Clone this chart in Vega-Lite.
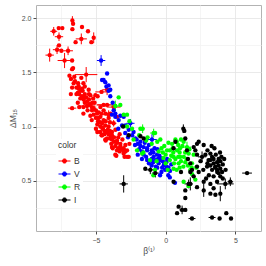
{
  "$schema": "https://vega.github.io/schema/vega-lite/v6.json",
  "width": 225,
  "height": 226,
  "autosize": {"type": "none"},
  "padding": {"left": 36, "top": 5, "right": 5, "bottom": 35},
  "background": "white",
  "config": {
    "font": "Liberation Sans",
    "view": {"stroke": "#b3b3b3", "strokeWidth": 1},
    "axis": {
      "domain": false,
      "labelFontSize": 7,
      "labelColor": "#4d4d4d",
      "titleFontSize": 8.5,
      "titleFontWeight": "normal",
      "titleColor": "#4d4d4d",
      "tickSize": 3,
      "labelPadding": 2,
      "gridWidth": 0.8
    }
  },
  "datasets": {
    "pts": [
      {"b": -6.69, "m": 1.98, "c": "B"}, {"b": -6.64, "m": 1.95, "c": "B"}, {"b": -6.69, "m": 1.90, "c": "B"}, {"b": -6.00, "m": 1.92, "c": "B"},
      {"b": -5.57, "m": 1.88, "c": "B"}, {"b": -7.67, "m": 1.91, "c": "B"}, {"b": -7.41, "m": 1.91, "c": "B"}, {"b": -8.03, "m": 1.88, "c": "B"},
      {"b": -7.65, "m": 1.83, "c": "B"}, {"b": -5.16, "m": 1.82, "c": "B"}, {"b": -6.05, "m": 1.81, "c": "B"}, {"b": -6.46, "m": 1.78, "c": "B"},
      {"b": -5.33, "m": 1.78, "c": "B"}, {"b": -7.65, "m": 1.75, "c": "B"}, {"b": -7.79, "m": 1.71, "c": "B"}, {"b": -7.48, "m": 1.70, "c": "B"},
      {"b": -7.00, "m": 1.70, "c": "B"}, {"b": -8.32, "m": 1.66, "c": "B"}, {"b": -7.25, "m": 1.61, "c": "B"}, {"b": -6.71, "m": 1.61, "c": "B"},
      {"b": -6.64, "m": 1.54, "c": "B"}, {"b": -5.70, "m": 1.48, "c": "B"}, {"b": -6.71, "m": 1.53, "c": "B"}, {"b": -6.79, "m": 1.44, "c": "B"},
      {"b": -6.28, "m": 1.40, "c": "B"}, {"b": -6.24, "m": 1.37, "c": "B"}, {"b": -6.71, "m": 1.36, "c": "B"}, {"b": -6.12, "m": 1.33, "c": "B"},
      {"b": -6.31, "m": 1.31, "c": "B"}, {"b": -5.95, "m": 1.33, "c": "B"}, {"b": -4.20, "m": 1.34, "c": "B"}, {"b": -5.04, "m": 1.29, "c": "B"},
      {"b": -4.88, "m": 1.28, "c": "B"}, {"b": -6.12, "m": 1.26, "c": "B"}, {"b": -5.88, "m": 1.25, "c": "B"}, {"b": -6.71, "m": 1.17, "c": "B"},
      {"b": -5.64, "m": 1.19, "c": "B"}, {"b": -5.40, "m": 1.21, "c": "B"}, {"b": -5.28, "m": 1.15, "c": "B"}, {"b": -4.68, "m": 1.18, "c": "B"},
      {"b": -4.45, "m": 1.20, "c": "B"}, {"b": -4.09, "m": 1.11, "c": "B"}, {"b": -5.16, "m": 1.11, "c": "B"}, {"b": -4.81, "m": 1.08, "c": "B"},
      {"b": -4.45, "m": 1.06, "c": "B"}, {"b": -4.68, "m": 1.00, "c": "B"}, {"b": -4.09, "m": 1.00, "c": "B"}, {"b": -4.38, "m": 0.96, "c": "B"},
      {"b": -6.55, "m": 1.46, "c": "B"}, {"b": -6.24, "m": 1.35, "c": "B"}, {"b": -5.88, "m": 1.27, "c": "B"}, {"b": -5.64, "m": 1.23, "c": "B"},
      {"b": -5.25, "m": 1.22, "c": "B"}, {"b": -5.16, "m": 1.17, "c": "B"}, {"b": -4.92, "m": 1.12, "c": "B"}, {"b": -4.68, "m": 1.09, "c": "B"},
      {"b": -4.56, "m": 1.03, "c": "B"}, {"b": -4.33, "m": 1.01, "c": "B"}, {"b": -4.20, "m": 0.95, "c": "B"}, {"b": -3.97, "m": 0.92, "c": "B"},
      {"b": -4.68, "m": 0.95, "c": "B"}, {"b": -3.85, "m": 0.88, "c": "B"}, {"b": -4.45, "m": 1.15, "c": "B"}, {"b": -4.09, "m": 1.08, "c": "B"},
      {"b": -5.40, "m": 1.29, "c": "B"}, {"b": -5.52, "m": 1.34, "c": "B"}, {"b": -4.20, "m": 0.89, "c": "B"}, {"b": -3.49, "m": 0.85, "c": "B"},
      {"b": -3.25, "m": 0.82, "c": "B"}, {"b": -2.89, "m": 0.77, "c": "B"}, {"b": -2.65, "m": 0.72, "c": "B"}, {"b": -3.54, "m": 0.73, "c": "B"},
      {"b": -3.01, "m": 0.80, "c": "B"}, {"b": -3.73, "m": 1.18, "c": "B"}, {"b": -3.49, "m": 1.09, "c": "B"}, {"b": -3.85, "m": 0.95, "c": "B"},
      {"b": -3.49, "m": 0.87, "c": "B"}, {"b": -3.25, "m": 0.84, "c": "B"}, {"b": -2.89, "m": 0.83, "c": "B"}, {"b": -3.61, "m": 0.74, "c": "B"},
      {"b": -2.77, "m": 0.78, "c": "B"}, {"b": -3.01, "m": 0.75, "c": "B"}, {"b": -6.40, "m": 1.30, "c": "B"}, {"b": -6.00, "m": 1.28, "c": "B"},
      {"b": -5.80, "m": 1.22, "c": "B"}, {"b": -5.50, "m": 1.25, "c": "B"}, {"b": -5.90, "m": 1.18, "c": "B"}, {"b": -5.00, "m": 1.15, "c": "B"},
      {"b": -5.30, "m": 1.06, "c": "B"}, {"b": -4.90, "m": 1.02, "c": "B"}, {"b": -4.50, "m": 0.98, "c": "B"}, {"b": -4.10, "m": 0.93, "c": "B"},
      {"b": -3.70, "m": 0.90, "c": "B"}, {"b": -3.90, "m": 0.84, "c": "B"}, {"b": -4.30, "m": 0.87, "c": "B"}, {"b": -5.00, "m": 0.98, "c": "B"},
      {"b": -3.30, "m": 0.93, "c": "B"}, {"b": -3.10, "m": 0.88, "c": "B"}, {"b": -2.60, "m": 0.84, "c": "B"}, {"b": -4.00, "m": 1.04, "c": "B"},
      {"b": -4.80, "m": 1.13, "c": "B"}, {"b": -6.30, "m": 1.22, "c": "B"}, {"b": -6.50, "m": 1.42, "c": "B"}, {"b": -5.90, "m": 1.40, "c": "B"},
      {"b": -6.90, "m": 1.47, "c": "B"}, {"b": -5.20, "m": 1.26, "c": "B"}, {"b": -4.60, "m": 1.12, "c": "B"}, {"b": -3.80, "m": 0.80, "c": "B"},
      {"b": -6.60, "m": 1.40, "c": "B"}, {"b": -6.40, "m": 1.36, "c": "B"}, {"b": -6.20, "m": 1.30, "c": "B"}, {"b": -6.00, "m": 1.35, "c": "B"},
      {"b": -5.80, "m": 1.30, "c": "B"}, {"b": -5.70, "m": 1.27, "c": "B"}, {"b": -5.50, "m": 1.20, "c": "B"}, {"b": -5.60, "m": 1.15, "c": "B"},
      {"b": -5.30, "m": 1.18, "c": "B"}, {"b": -5.10, "m": 1.22, "c": "B"}, {"b": -5.00, "m": 1.08, "c": "B"}, {"b": -4.85, "m": 1.05, "c": "B"},
      {"b": -4.70, "m": 1.04, "c": "B"}, {"b": -4.55, "m": 0.99, "c": "B"}, {"b": -4.40, "m": 0.93, "c": "B"}, {"b": -4.30, "m": 1.05, "c": "B"},
      {"b": -4.15, "m": 0.97, "c": "B"}, {"b": -4.00, "m": 0.96, "c": "B"}, {"b": -3.85, "m": 0.92, "c": "B"}, {"b": -3.70, "m": 0.86, "c": "B"},
      {"b": -3.60, "m": 0.82, "c": "B"}, {"b": -3.40, "m": 0.80, "c": "B"}, {"b": -3.30, "m": 0.77, "c": "B"}, {"b": -3.15, "m": 0.79, "c": "B"},
      {"b": -2.95, "m": 0.72, "c": "B"}, {"b": -5.90, "m": 1.12, "c": "B"}, {"b": -6.20, "m": 1.18, "c": "B"}, {"b": -5.40, "m": 1.10, "c": "B"},
      {"b": -4.90, "m": 0.95, "c": "B"}, {"b": -4.60, "m": 0.92, "c": "B"}, {"b": -3.95, "m": 1.12, "c": "B"}, {"b": -4.30, "m": 1.12, "c": "B"},
      {"b": -3.60, "m": 0.97, "c": "B"}, {"b": -3.40, "m": 0.90, "c": "B"}, {"b": -6.05, "m": 1.45, "c": "B"}, {"b": -5.80, "m": 1.37, "c": "B"},
      {"b": -6.80, "m": 1.30, "c": "B"}, {"b": -5.50, "m": 1.30, "c": "B"}, {"b": -4.56, "m": 0.92, "c": "B"}, {"b": -4.33, "m": 0.88, "c": "B"},
      {"b": -3.97, "m": 0.89, "c": "B"}, {"b": -3.85, "m": 0.81, "c": "B"}, {"b": -3.49, "m": 0.78, "c": "B"}, {"b": -3.01, "m": 0.77, "c": "B"},
      {"b": -2.77, "m": 0.72, "c": "B"}, {"b": -3.73, "m": 1.03, "c": "B"}, {"b": -4.20, "m": 1.20, "c": "B"}, {"b": -4.60, "m": 1.32, "c": "B"},

      {"b": -4.63, "m": 1.61, "c": "V"}, {"b": -4.20, "m": 1.49, "c": "V"}, {"b": -4.56, "m": 1.43, "c": "V"}, {"b": -4.33, "m": 1.41, "c": "V"},
      {"b": -4.25, "m": 1.37, "c": "V"}, {"b": -4.09, "m": 1.33, "c": "V"}, {"b": -3.97, "m": 1.28, "c": "V"}, {"b": -3.73, "m": 1.15, "c": "V"},
      {"b": -3.61, "m": 1.09, "c": "V"}, {"b": -3.37, "m": 1.06, "c": "V"}, {"b": -3.13, "m": 1.01, "c": "V"}, {"b": -3.85, "m": 1.11, "c": "V"},
      {"b": -3.61, "m": 1.12, "c": "V"}, {"b": -3.25, "m": 1.10, "c": "V"}, {"b": -3.01, "m": 1.09, "c": "V"}, {"b": -2.89, "m": 1.01, "c": "V"},
      {"b": -2.65, "m": 0.97, "c": "V"}, {"b": -2.53, "m": 1.03, "c": "V"}, {"b": -2.17, "m": 0.89, "c": "V"}, {"b": -1.81, "m": 0.86, "c": "V"},
      {"b": -1.58, "m": 0.81, "c": "V"}, {"b": -1.33, "m": 0.78, "c": "V"}, {"b": -0.98, "m": 0.88, "c": "V"}, {"b": -1.10, "m": 0.75, "c": "V"},
      {"b": -0.86, "m": 0.72, "c": "V"}, {"b": -0.62, "m": 0.74, "c": "V"}, {"b": -0.38, "m": 0.71, "c": "V"}, {"b": -0.74, "m": 0.69, "c": "V"},
      {"b": -0.50, "m": 0.66, "c": "V"}, {"b": -0.14, "m": 0.64, "c": "V"}, {"b": -1.33, "m": 0.69, "c": "V"}, {"b": -1.58, "m": 0.74, "c": "V"},
      {"b": -2.08, "m": 0.88, "c": "V"}, {"b": -1.81, "m": 0.82, "c": "V"}, {"b": -1.33, "m": 0.80, "c": "V"}, {"b": -0.88, "m": 0.76, "c": "V"},
      {"b": -0.40, "m": 0.69, "c": "V"}, {"b": 0.07, "m": 0.63, "c": "V"}, {"b": 0.31, "m": 0.59, "c": "V"}, {"b": 0.67, "m": 0.48, "c": "V"},
      {"b": -0.04, "m": 0.60, "c": "V"}, {"b": 0.19, "m": 0.55, "c": "V"}, {"b": -2.40, "m": 0.92, "c": "V"}, {"b": -2.00, "m": 0.84, "c": "V"},
      {"b": -1.70, "m": 0.77, "c": "V"}, {"b": -1.00, "m": 0.70, "c": "V"}, {"b": -0.60, "m": 0.62, "c": "V"}, {"b": -0.20, "m": 0.68, "c": "V"},
      {"b": 0.40, "m": 0.65, "c": "V"}, {"b": -3.40, "m": 0.98, "c": "V"}, {"b": -2.90, "m": 0.94, "c": "V"}, {"b": -1.20, "m": 0.83, "c": "V"},
      {"b": -0.30, "m": 0.58, "c": "V"}, {"b": 0.10, "m": 0.70, "c": "V"}, {"b": -3.80, "m": 1.22, "c": "V"}, {"b": -4.45, "m": 1.43, "c": "V"},
      {"b": -4.09, "m": 1.38, "c": "V"}, {"b": -3.97, "m": 1.34, "c": "V"},
      {"b": -1.40, "m": 0.72, "c": "V"}, {"b": -1.20, "m": 0.66, "c": "V"}, {"b": -1.00, "m": 0.64, "c": "V"}, {"b": -0.90, "m": 0.67, "c": "V"},
      {"b": -0.70, "m": 0.63, "c": "V"}, {"b": -0.55, "m": 0.70, "c": "V"}, {"b": -0.45, "m": 0.73, "c": "V"}, {"b": -0.25, "m": 0.62, "c": "V"},
      {"b": -0.10, "m": 0.66, "c": "V"}, {"b": 0.05, "m": 0.67, "c": "V"}, {"b": 0.20, "m": 0.62, "c": "V"}, {"b": -0.80, "m": 0.80, "c": "V"},
      {"b": -1.50, "m": 0.85, "c": "V"}, {"b": -1.90, "m": 0.79, "c": "V"}, {"b": -2.20, "m": 0.83, "c": "V"}, {"b": -2.30, "m": 0.95, "c": "V"},
      {"b": -2.70, "m": 0.90, "c": "V"}, {"b": -1.00, "m": 0.78, "c": "V"}, {"b": -0.60, "m": 0.79, "c": "V"}, {"b": -1.70, "m": 0.70, "c": "V"},
      {"b": 0.30, "m": 0.53, "c": "V"}, {"b": -0.40, "m": 0.55, "c": "V"}, {"b": -2.00, "m": 0.74, "c": "V"},

      {"b": -3.37, "m": 1.27, "c": "R"}, {"b": -3.61, "m": 1.19, "c": "R"}, {"b": -3.01, "m": 1.11, "c": "R"}, {"b": -2.77, "m": 1.00, "c": "R"},
      {"b": -2.41, "m": 0.98, "c": "R"}, {"b": -1.65, "m": 0.98, "c": "R"}, {"b": -0.76, "m": 0.94, "c": "R"}, {"b": -3.25, "m": 1.20, "c": "R"},
      {"b": -2.77, "m": 1.11, "c": "R"}, {"b": -1.81, "m": 0.98, "c": "R"}, {"b": -0.86, "m": 0.94, "c": "R"}, {"b": -0.38, "m": 0.88, "c": "R"},
      {"b": 0.46, "m": 0.84, "c": "R"}, {"b": 0.10, "m": 0.78, "c": "R"}, {"b": 0.82, "m": 0.78, "c": "R"}, {"b": 0.57, "m": 0.72, "c": "R"},
      {"b": -2.05, "m": 0.78, "c": "R"}, {"b": -1.69, "m": 0.75, "c": "R"}, {"b": 1.29, "m": 0.86, "c": "R"}, {"b": 1.53, "m": 0.81, "c": "R"},
      {"b": 1.65, "m": 0.75, "c": "R"}, {"b": 1.05, "m": 0.72, "c": "R"}, {"b": 1.41, "m": 0.67, "c": "R"}, {"b": 1.89, "m": 0.66, "c": "R"},
      {"b": 2.01, "m": 0.74, "c": "R"}, {"b": 1.77, "m": 0.60, "c": "R"}, {"b": 1.29, "m": 0.49, "c": "R"}, {"b": 2.13, "m": 0.51, "c": "R"},
      {"b": 0.57, "m": 0.61, "c": "R"}, {"b": 0.93, "m": 0.66, "c": "R"}, {"b": -1.60, "m": 0.76, "c": "R"}, {"b": -1.12, "m": 0.69, "c": "R"},
      {"b": -0.65, "m": 0.68, "c": "R"}, {"b": -0.16, "m": 0.71, "c": "R"}, {"b": 0.55, "m": 0.76, "c": "R"}, {"b": 1.03, "m": 0.80, "c": "R"},
      {"b": 1.27, "m": 0.63, "c": "R"}, {"b": 0.79, "m": 0.60, "c": "R"}, {"b": 1.87, "m": 0.62, "c": "R"}, {"b": 1.63, "m": 0.45, "c": "R"},
      {"b": -0.88, "m": 0.55, "c": "R"}, {"b": -0.76, "m": 0.60, "c": "R"}, {"b": -0.30, "m": 0.80, "c": "R"}, {"b": 0.20, "m": 0.85, "c": "R"},
      {"b": 0.70, "m": 0.88, "c": "R"}, {"b": -1.30, "m": 0.90, "c": "R"}, {"b": -2.30, "m": 0.88, "c": "R"}, {"b": 0.00, "m": 0.74, "c": "R"},
      {"b": 0.30, "m": 0.69, "c": "R"}, {"b": 1.00, "m": 0.76, "c": "R"}, {"b": -0.50, "m": 0.77, "c": "R"}, {"b": 1.50, "m": 0.70, "c": "R"},
      {"b": -1.90, "m": 0.92, "c": "R"}, {"b": 0.90, "m": 0.83, "c": "R"}, {"b": -2.60, "m": 1.05, "c": "R"}, {"b": -0.10, "m": 0.82, "c": "R"},
      {"b": 0.30, "m": 0.78, "c": "R"}, {"b": 0.50, "m": 0.80, "c": "R"}, {"b": 0.70, "m": 0.70, "c": "R"}, {"b": 0.90, "m": 0.72, "c": "R"},
      {"b": 1.10, "m": 0.68, "c": "R"}, {"b": 1.20, "m": 0.82, "c": "R"}, {"b": 1.40, "m": 0.76, "c": "R"}, {"b": 1.60, "m": 0.64, "c": "R"},
      {"b": 0.60, "m": 0.66, "c": "R"}, {"b": 0.00, "m": 0.66, "c": "R"}, {"b": 0.15, "m": 0.60, "c": "R"}, {"b": 1.00, "m": 0.62, "c": "R"},
      {"b": 0.40, "m": 0.73, "c": "R"}, {"b": 1.30, "m": 0.72, "c": "R"}, {"b": -0.20, "m": 0.76, "c": "R"}, {"b": 0.80, "m": 0.86, "c": "R"},
      {"b": 1.70, "m": 0.79, "c": "R"}, {"b": 1.10, "m": 0.88, "c": "R"}, {"b": -1.00, "m": 0.84, "c": "R"}, {"b": -0.60, "m": 0.86, "c": "R"},
      {"b": -1.40, "m": 0.87, "c": "R"}, {"b": 1.90, "m": 0.56, "c": "R"}, {"b": 2.20, "m": 0.62, "c": "R"},

      {"b": -3.01, "m": 0.47, "c": "I"}, {"b": -2.65, "m": 0.92, "c": "I"}, {"b": -1.81, "m": 0.91, "c": "I"}, {"b": -1.58, "m": 0.89, "c": "I"},
      {"b": -3.05, "m": 1.00, "c": "I"}, {"b": -1.46, "m": 0.61, "c": "I"}, {"b": 1.27, "m": 0.98, "c": "I"}, {"b": 1.34, "m": 0.96, "c": "I"},
      {"b": 2.37, "m": 0.86, "c": "I"}, {"b": 2.73, "m": 0.83, "c": "I"}, {"b": 1.53, "m": 0.78, "c": "I"}, {"b": 2.13, "m": 0.78, "c": "I"},
      {"b": 2.61, "m": 0.72, "c": "I"}, {"b": 2.85, "m": 0.74, "c": "I"}, {"b": 3.21, "m": 0.75, "c": "I"}, {"b": 3.33, "m": 0.72, "c": "I"},
      {"b": 3.08, "m": 0.69, "c": "I"}, {"b": 3.44, "m": 0.70, "c": "I"}, {"b": 3.69, "m": 0.67, "c": "I"}, {"b": 3.92, "m": 0.68, "c": "I"},
      {"b": 3.44, "m": 0.66, "c": "I"}, {"b": 3.80, "m": 0.64, "c": "I"}, {"b": 3.57, "m": 0.63, "c": "I"}, {"b": 3.92, "m": 0.61, "c": "I"},
      {"b": 3.69, "m": 0.60, "c": "I"}, {"b": 4.05, "m": 0.58, "c": "I"}, {"b": 3.80, "m": 0.57, "c": "I"}, {"b": 3.33, "m": 0.60, "c": "I"},
      {"b": 3.21, "m": 0.64, "c": "I"}, {"b": 2.97, "m": 0.63, "c": "I"}, {"b": 3.92, "m": 0.54, "c": "I"}, {"b": 4.28, "m": 0.47, "c": "I"},
      {"b": 4.64, "m": 0.49, "c": "I"}, {"b": 3.69, "m": 0.49, "c": "I"}, {"b": 3.21, "m": 0.47, "c": "I"}, {"b": 3.44, "m": 0.43, "c": "I"},
      {"b": 3.57, "m": 0.37, "c": "I"}, {"b": 2.73, "m": 0.49, "c": "I"}, {"b": 2.73, "m": 0.41, "c": "I"}, {"b": 3.92, "m": 0.38, "c": "I"},
      {"b": 3.21, "m": 0.38, "c": "I"}, {"b": 5.84, "m": 0.57, "c": "I"}, {"b": 2.25, "m": 0.63, "c": "I"}, {"b": 1.77, "m": 0.66, "c": "I"},
      {"b": 1.77, "m": 0.47, "c": "I"}, {"b": 2.01, "m": 0.54, "c": "I"}, {"b": 1.41, "m": 0.34, "c": "I"}, {"b": 1.41, "m": 0.41, "c": "I"},
      {"b": 0.70, "m": 0.86, "c": "I"}, {"b": 0.57, "m": 0.80, "c": "I"}, {"b": 2.25, "m": 0.84, "c": "I"}, {"b": 0.93, "m": 0.26, "c": "I"},
      {"b": 1.18, "m": 0.23, "c": "I"}, {"b": 1.41, "m": 0.23, "c": "I"}, {"b": 0.82, "m": 0.20, "c": "I"}, {"b": 1.89, "m": 0.15, "c": "I"},
      {"b": 3.33, "m": 0.16, "c": "I"}, {"b": 3.87, "m": 0.15, "c": "I"}, {"b": 4.35, "m": 0.20, "c": "I"}, {"b": 4.69, "m": 0.15, "c": "I"},
      {"b": 1.77, "m": 0.58, "c": "I"}, {"b": 2.37, "m": 0.58, "c": "I"}, {"b": 3.44, "m": 0.54, "c": "I"}, {"b": 1.60, "m": 0.70, "c": "I"},
      {"b": 3.00, "m": 0.78, "c": "I"}, {"b": 3.60, "m": 0.74, "c": "I"}, {"b": 4.10, "m": 0.65, "c": "I"}, {"b": 4.30, "m": 0.60, "c": "I"},
      {"b": 3.10, "m": 0.55, "c": "I"}, {"b": 2.50, "m": 0.68, "c": "I"}, {"b": 4.00, "m": 0.72, "c": "I"}, {"b": 3.50, "m": 0.80, "c": "I"},
      {"b": 1.10, "m": 0.58, "c": "I"}, {"b": 2.90, "m": 0.52, "c": "I"},
      {"b": -1.10, "m": 0.60, "c": "I"}, {"b": -0.74, "m": 0.57, "c": "I"}, {"b": 1.65, "m": 0.47, "c": "I"}, {"b": 1.41, "m": 0.89, "c": "I"},
      {"b": 2.01, "m": 0.81, "c": "I"}, {"b": 2.25, "m": 0.74, "c": "I"}, {"b": 1.89, "m": 0.60, "c": "I"}, {"b": 0.57, "m": 0.49, "c": "I"},
      {"b": 2.25, "m": 0.44, "c": "I"}, {"b": 3.30, "m": 0.82, "c": "I"}, {"b": 3.90, "m": 0.76, "c": "I"}, {"b": 4.20, "m": 0.70, "c": "I"},
      {"b": 3.70, "m": 0.58, "c": "I"}, {"b": 4.10, "m": 0.52, "c": "I"}, {"b": 3.00, "m": 0.66, "c": "I"}, {"b": 2.70, "m": 0.60, "c": "I"},
      {"b": 3.55, "m": 0.62, "c": "I"}, {"b": 3.20, "m": 0.69, "c": "I"}, {"b": 3.80, "m": 0.70, "c": "I"}
    ],
    "err": [
      {"b": -6.69, "m": 1.98, "c": "B", "xe": 0, "ye": 0.04},
      {"b": -8.03, "m": 1.88, "c": "B", "xe": 0.25, "ye": 0.04},
      {"b": -7.65, "m": 1.83, "c": "B", "xe": 0.3, "ye": 0.04},
      {"b": -5.16, "m": 1.82, "c": "B", "xe": 0, "ye": 0.05},
      {"b": -6.05, "m": 1.81, "c": "B", "xe": 0.4, "ye": 0.05},
      {"b": -7.79, "m": 1.71, "c": "B", "xe": 0.3, "ye": 0.04},
      {"b": -7.00, "m": 1.70, "c": "B", "xe": 0.35, "ye": 0.04},
      {"b": -8.32, "m": 1.66, "c": "B", "xe": 0.3, "ye": 0.06},
      {"b": -7.25, "m": 1.61, "c": "B", "xe": 0.5, "ye": 0.07},
      {"b": -5.70, "m": 1.48, "c": "B", "xe": 0.8, "ye": 0.07},
      {"b": -4.20, "m": 1.34, "c": "B", "xe": 0.35, "ye": 0.05},
      {"b": -6.71, "m": 1.17, "c": "B", "xe": 0.3, "ye": 0},
      {"b": -5.64, "m": 1.19, "c": "B", "xe": 0.6, "ye": 0.05},
      {"b": -4.45, "m": 1.20, "c": "B", "xe": 0.5, "ye": 0},
      {"b": -4.09, "m": 1.11, "c": "B", "xe": 0.5, "ye": 0.04},
      {"b": -3.73, "m": 1.18, "c": "B", "xe": 0.5, "ye": 0},
      {"b": -4.20, "m": 1.20, "c": "B", "xe": 0.7, "ye": 0},
      {"b": -4.60, "m": 1.32, "c": "B", "xe": 0.45, "ye": 0},
      {"b": -3.73, "m": 1.03, "c": "B", "xe": 0.2, "ye": 0.03},
      {"b": -4.63, "m": 1.61, "c": "V", "xe": 0.3, "ye": 0.05},
      {"b": -2.53, "m": 1.03, "c": "V", "xe": 0.3, "ye": 0.04},
      {"b": -0.98, "m": 0.88, "c": "V", "xe": 0.35, "ye": 0.05},
      {"b": -3.61, "m": 1.19, "c": "R", "xe": 0.3, "ye": 0.05},
      {"b": -1.65, "m": 0.98, "c": "R", "xe": 0.15, "ye": 0.04},
      {"b": -0.86, "m": 0.94, "c": "R", "xe": 0.25, "ye": 0.04},
      {"b": 1.53, "m": 0.81, "c": "R", "xe": 0.3, "ye": 0.05},
      {"b": -3.01, "m": 0.47, "c": "I", "xe": 0.3, "ye": 0.08},
      {"b": 2.61, "m": 0.72, "c": "I", "xe": 0.3, "ye": 0.05},
      {"b": 4.28, "m": 0.47, "c": "I", "xe": 0.6, "ye": 0.05},
      {"b": 4.64, "m": 0.49, "c": "I", "xe": 0.2, "ye": 0.04},
      {"b": 2.73, "m": 0.41, "c": "I", "xe": 0, "ye": 0.06},
      {"b": 3.92, "m": 0.38, "c": "I", "xe": 0, "ye": 0.07},
      {"b": 5.84, "m": 0.57, "c": "I", "xe": 0.35, "ye": 0},
      {"b": 1.77, "m": 0.47, "c": "I", "xe": 0, "ye": 0.06},
      {"b": 1.18, "m": 0.23, "c": "I", "xe": 0.2, "ye": 0.04},
      {"b": 1.89, "m": 0.15, "c": "I", "xe": 0.25, "ye": 0},
      {"b": 3.33, "m": 0.16, "c": "I", "xe": 0.25, "ye": 0},
      {"b": 1.27, "m": 0.98, "c": "I", "xe": 0, "ye": 0.04},
      {"b": -1.10, "m": 0.60, "c": "I", "xe": 0.25, "ye": 0.04},
      {"b": -0.74, "m": 0.57, "c": "I", "xe": 0.25, "ye": 0.04},
      {"b": 1.65, "m": 0.47, "c": "I", "xe": 0.3, "ye": 0.04}
    ]
  },
  "encoding": {
    "x": {
      "field": "b", "type": "quantitative",
      "scale": {"domain": [-9.3, 6.84], "nice": false, "zero": false},
      "axis": {
        "title": "β⁽¹⁾",
        "values": [-7.5, -5, -2.5, 0, 2.5, 5],
        "labelExpr": "datum.value % 5 === 0 ? format(datum.value, 'd') : ''",
        "gridColor": {"condition": {"test": "datum.value % 5 !== 0", "value": "#f3f3f3"}, "value": "#e5e5e5"},
        "tickColor": {"condition": {"test": "datum.value % 5 !== 0", "value": "transparent"}, "value": "#4d4d4d"},
        "titlePadding": 3
      }
    },
    "y": {
      "field": "m", "type": "quantitative",
      "scale": {"domain": [0.035, 2.123], "nice": false, "zero": false},
      "axis": {
        "title": "ΔM₁₅",
        "values": [0.25, 0.5, 0.75, 1, 1.25, 1.5, 1.75, 2],
        "labelExpr": "round(datum.value * 4) % 2 === 1 ? '' : format(datum.value, '.1f')",
        "gridColor": {"condition": {"test": "round(datum.value * 4) % 2 === 1", "value": "#f3f3f3"}, "value": "#e5e5e5"},
        "tickColor": {"condition": {"test": "round(datum.value * 4) % 2 === 1", "value": "transparent"}, "value": "#4d4d4d"},
        "titlePadding": 4
      }
    },
    "color": {
      "field": "c", "type": "nominal",
      "scale": {"domain": ["B", "V", "R", "I"], "range": ["#FF0000", "#0000FF", "#00FF00", "#000000"]},
      "legend": {
        "title": "color",
        "orient": "none",
        "legendX": 20,
        "legendY": 134,
        "fillColor": "white",
        "padding": 2,
        "titleFontSize": 8.5,
        "titleFontWeight": "normal",
        "titleColor": "#333333",
        "labelFontSize": 8.5,
        "labelColor": "#333333",
        "symbolType": "M-1,0H1M-0.35,0A0.35,0.35 0 1,0 0.35,0A0.35,0.35 0 1,0 -0.35,0Z",
        "symbolSize": 144,
        "symbolStrokeWidth": 1,
        "rowPadding": 2,
        "labelOffset": 3,
        "encode": {"symbols": {"update": {"stroke": {"scale": "color", "field": "value"}, "fill": {"scale": "color", "field": "value"}}}}
      }
    }
  },
  "layer": [
    {
      "data": {"name": "err"},
      "mark": {"type": "errorbar", "thickness": 1},
      "encoding": {"xError": {"field": "xe"}}
    },
    {
      "data": {"name": "err"},
      "mark": {"type": "errorbar", "thickness": 1},
      "encoding": {"yError": {"field": "ye"}}
    },
    {
      "data": {"name": "pts"},
      "mark": {"type": "circle", "size": 19, "opacity": 1}
    }
  ]
}
